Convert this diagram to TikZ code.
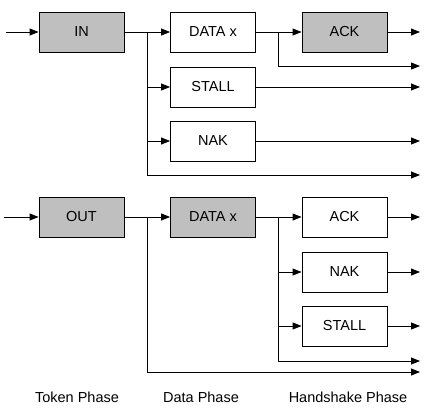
\documentclass[tikz,border=0pt]{standalone}
\usepackage{fontspec}
\setmainfont{Liberation Sans}
\usetikzlibrary{calc,arrows.meta}

\begin{document}
\begin{tikzpicture}[x=1pt,y=-1pt,
    box/.style={draw, line width=0.8pt, minimum width=85pt, minimum height=40pt,
      inner sep=0pt, font=\fontsize{14.5}{16}\selectfont},
    token/.style={box, fill=black!25},
    flow/.style={line width=0.8pt, -{Triangle[length=9pt,width=7pt]}},
    phase/.style={font=\fontsize{14.5}{16}\selectfont}]
  \useasboundingbox (0,0) rectangle (432,408);

  % IN transaction
  \node[token] (in) at (81.5,32) {IN};
  \node[box] (dataA) at (213,32) {DATA x};
  \node[box] (stallA) at (213,87) {STALL};
  \node[box] (nakA) at (213,141) {NAK};
  \node[token] (ackA) at (344.5,32) {ACK};

  \coordinate (srcA) at (6,32);
  \coordinate (b1) at ($(in.east)!0.5!(dataA.west)$);
  \coordinate (b2) at ($(dataA.east)!0.5!(ackA.west)$);
  \coordinate (endA) at (420,32);
  \coordinate (endB) at (420,66);
  \coordinate (endC) at (420,87);
  \coordinate (endD) at (420,141);
  \coordinate (endE) at (420,175);

  \draw[flow] (srcA) -- (in);
  \draw[flow] (in) -- (dataA);
  \draw[flow] (b1) |- (stallA);
  \draw[flow] (b1) |- (nakA);
  \draw[flow] (b1) |- (endE);
  \draw[flow] (dataA) -- (ackA);
  \draw[flow] (b2) |- (endB);
  \draw[flow] (ackA) -- (endA);
  \draw[flow] (stallA) -- (endC);
  \draw[flow] (nakA) -- (endD);

  % OUT transaction
  \node[token] (out) at (81.5,217) {OUT};
  \node[token] (dataB) at (213,217) {DATA x};
  \node[box] (ackB) at (344.5,217) {ACK};
  \node[box] (nakB) at (344.5,272) {NAK};
  \node[box] (stallB) at (344.5,326) {STALL};

  \coordinate (srcB) at (4,217);
  \coordinate (b3) at ($(out.east)!0.5!(dataB.west)$);
  \coordinate (b4) at ($(dataB.east)!0.5!(ackB.west)$);
  \coordinate (endF) at (420,361);
  \coordinate (endG) at (420,372);

  \draw[flow] (srcB) -- (out);
  \draw[flow] (out) -- (dataB);
  \draw[flow] (b3) |- (endG);
  \draw[flow] (dataB) -- (ackB);
  \draw[flow] (b4) |- (nakB);
  \draw[flow] (b4) |- (stallB);
  \draw[flow] (b4) |- (endF);
  \foreach \h in {ackB,nakB,stallB}{
    \draw[flow] (\h) -- (\h.east -| endF);
  }

  % Phase labels
  \node[phase] (tokenPh) at (77,397) {Token Phase};
  \node[phase] (dataPh) at (201,397) {Data Phase};
  \node[phase] (handPh) at (348,397) {Handshake Phase};
\end{tikzpicture}
\end{document}
